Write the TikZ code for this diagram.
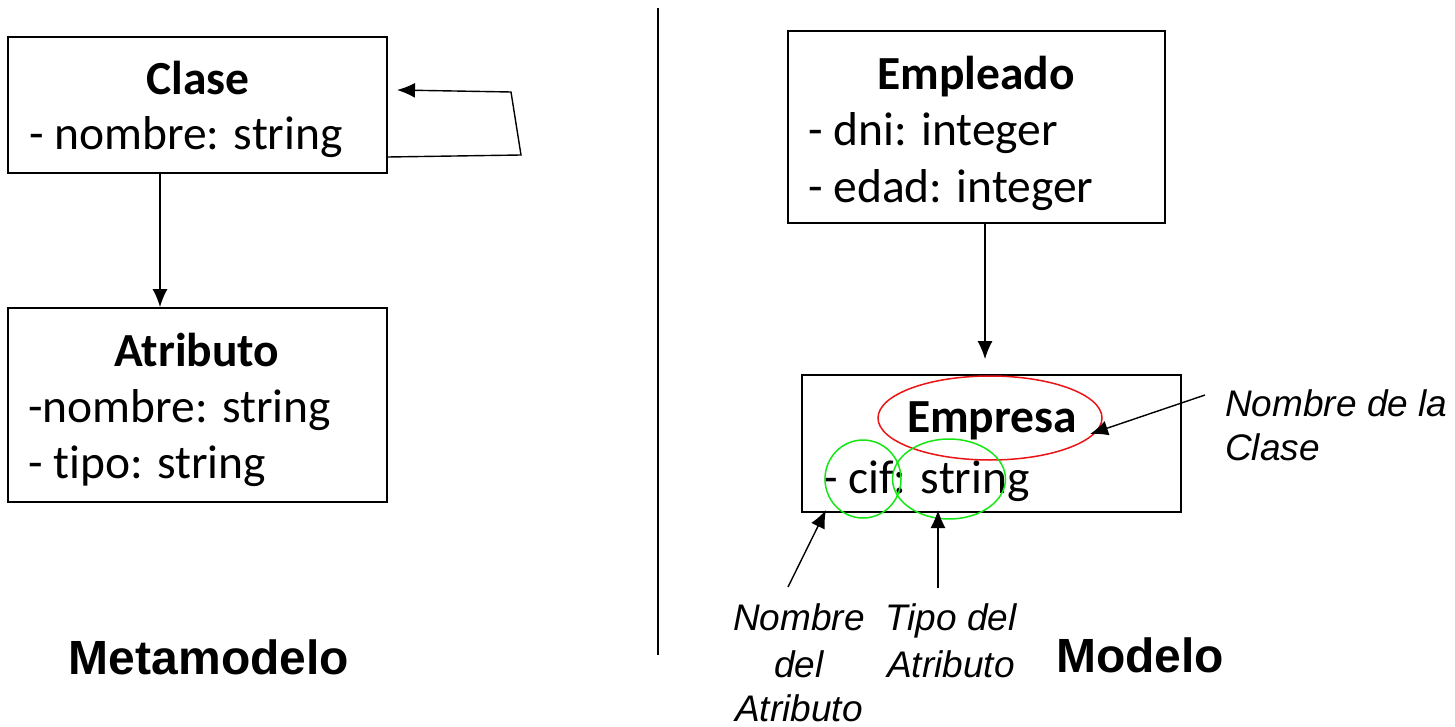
\documentclass[tikz,border=0pt]{standalone}
\usepackage{fontspec}
\setmainfont[RawFeature={-liga;-dlig}]{Carlito}
\newfontfamily\arialf{Liberation Sans}
\usetikzlibrary{arrows.meta,shapes.geometric}
\definecolor{hlred}{RGB}{235,20,20}
\definecolor{hlgreen}{RGB}{20,230,20}
\begin{document}
\begin{tikzpicture}[x=1pt,y=-1pt,
  box/.style={draw, line width=1.8pt, inner sep=0pt},
  conn/.style={line width=1.4pt, -{Latex[length=18pt,width=15pt]}},
  body/.style={font=\fontsize{47.5}{57}\selectfont, inner sep=0pt},
  ttl/.style={font=\bfseries\fontsize{47.5}{57}\selectfont, inner sep=0pt},
  lbl/.style={font=\arialf\itshape\fontsize{37}{47.5}\selectfont, inner sep=0pt},
  big/.style={font=\arialf\bfseries\fontsize{48}{56}\selectfont, inner sep=0pt},
  hiring/.style={ellipse, line width=1.5pt, inner sep=0pt}]
\useasboundingbox (0,0) rectangle (1455,727);
% Metamodel
\node[box, minimum width=379pt, minimum height=136pt] (clase) at (197.5,105) {};
\node[ttl, anchor=base] (claseT) at (198,95) {Clase};
\node[body, anchor=base west] (claseA) at (29,150) {- nombre: string};
\node[box, minimum width=379pt, minimum height=194pt] (atrib) at (197.5,405) {};
\node[ttl, anchor=base] (atribT) at (197,366) {Atributo};
\node[body, anchor=base west] (atribA) at (28,422) {-nombre: string};
\node[body, anchor=base west] (atribB) at (28,478) {- tipo: string};
\coordinate (l1) at (521,155);
\coordinate (l2) at (511,92);
\coordinate (l3) at (397,90);
\draw[conn] (clase.east |- 0,157) -- (l1) -- (l2) -- (l3);
\draw[conn] (clase.south -| 160,0) -- (atrib.north -| 160,0);
\node[big, anchor=base] (meta) at (209,674) {Metamodelo};
% divider
\coordinate (d1) at (658,8);
\coordinate (d2) at (658,655);
\draw[line width=1.5pt] (d1) -- (d2);
% Model
\node[box, minimum width=377pt, minimum height=192pt] (empl) at (976.5,127) {};
\node[ttl, anchor=base] (emplT) at (976,90) {Empleado};
\node[body, anchor=base west] (emplA) at (808,146) {- dni: integer};
\node[body, anchor=base west] (emplB) at (808,203) {- edad: integer};
\node[box, minimum width=379pt, minimum height=137pt] (empr) at (991.5,443.5) {};
\draw[conn, shorten >=15pt] (empl.south -| 985,0) -- (empr.north -| 985,0);
\node[ttl, anchor=base] (emprT) at (992,432) {Empresa};
\node[body, anchor=base west] (emprA) at (823,493) {- cif: string};
\node[hiring, draw=hlred, minimum width=224pt, minimum height=84pt] (redE) at (990,418) {};
\node[hiring, draw=hlgreen, minimum width=76pt, minimum height=78pt] (grA) at (863,479) {};
\node[hiring, draw=hlgreen, minimum width=113pt, minimum height=80pt] (grB) at (949,479) {};
\node[lbl, anchor=base west] (nc1) at (1225,416) {Nombre de la};
\node[lbl, anchor=base west] (nc2) at (1225,460) {Clase};
\coordinate (a1) at (1205,395);
\coordinate (a1t) at (1090,434);
\draw[conn] (a1) -- (a1t);
\node[lbl, anchor=base] (na1) at (799,630) {Nombre};
\node[lbl, anchor=base] (na2) at (799,677) {del};
\node[lbl, anchor=base] (na3) at (799,721) {Atributo};
\node[lbl, anchor=base] (ta1) at (951,630) {Tipo del};
\node[lbl, anchor=base] (ta2) at (951,677) {Atributo};
\coordinate (b1) at (788,587);
\coordinate (b1t) at (826,510);
\draw[conn] (b1) -- (b1t);
\coordinate (c1) at (938,588);
\coordinate (c1t) at (938,510);
\draw[conn] (c1) -- (c1t);
\node[big, anchor=base] (modelo) at (1140,672) {Modelo};
\end{tikzpicture}
\end{document}
